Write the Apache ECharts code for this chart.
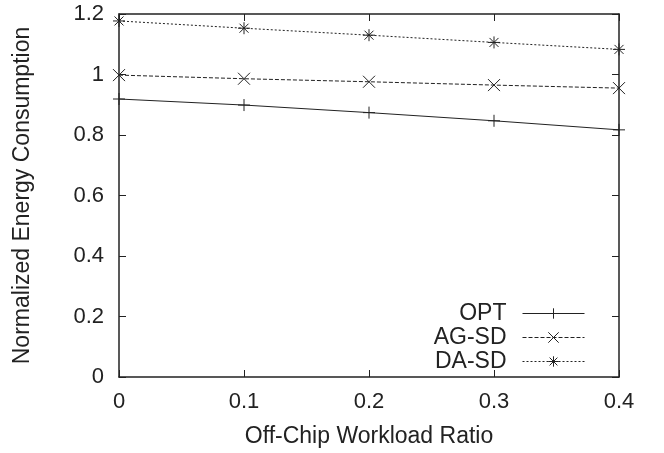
<!DOCTYPE html>
<html><head><meta charset="utf-8">
<script src="https://cdn.jsdelivr.net/npm/echarts@6/dist/echarts.min.js"></script>
<style>html,body{margin:0;padding:0;background:#fff}#c{width:664px;height:453px}</style>
</head><body><div id="c"></div>
<script>
const xValues = [0, 0.1, 0.2, 0.3, 0.4];
const optValues = [0.919, 0.899, 0.874, 0.847, 0.817];
const agsdValues = [0.998, 0.986, 0.976, 0.965, 0.955];
const dasdValues = [1.177, 1.153, 1.130, 1.106, 1.083];
const seriesNames = ['OPT', 'AG-SD', 'DA-SD'];

const plusPath = 'path://M10,0L10,20M0,10L20,10';
const crossPath = 'path://M0,0L20,20M20,0L0,20';
const starPath = 'path://M10,0L10,20M0,10L20,10M2.5,2.5L17.5,17.5M17.5,2.5L2.5,17.5';
const font = 'Liberation Sans, Arial, Helvetica, sans-serif';
const ink = '#222';

function mk(name, vals, sym, type) {
  return {
    name: name, type: 'line',
    data: xValues.map((x, i) => [x, vals[i]]),
    symbol: sym, symbolSize: 12,
    itemStyle: {color: 'none', borderColor: ink, borderWidth: 1},
    lineStyle: {color: ink, width: 1, type: type},
    emphasis: {disabled: true}, animation: false, z: 3
  };
}
const chart = echarts.init(document.getElementById('c'), null, {renderer: 'canvas'});
const axLine = {show: true, onZero: false, lineStyle: {color: ink, width: 1.5}};
const tick = {show: true, inside: true, length: 7, lineStyle: {color: ink}};
chart.setOption({
  animation: false,
  backgroundColor: '#fff',
  grid: {left: 119, right: 45, top: 14, bottom: 76, containLabel: false},
  legend: {
    orient: 'vertical', right: 74, top: 297, align: 'right',
    itemWidth: 62, itemHeight: 13, itemGap: 1,
    itemStyle: {borderWidth: 1},
    lineStyle: {width: 1},
    textStyle: {fontFamily: font, fontSize: 23, color: ink, padding: [0, 11, 0, 0]},
    data: seriesNames
  },
  xAxis: [{
    type: 'value', min: 0, max: 0.4, interval: 0.1,
    name: 'Off-Chip Workload Ratio', nameLocation: 'middle', nameGap: 48,
    nameTextStyle: {fontFamily: font, fontSize: 23, color: ink},
    axisLine: axLine, axisTick: tick,
    axisLabel: {fontFamily: font, fontSize: 22, color: ink, margin: 14, formatter: v => String(Math.round(v*10)/10)},
    splitLine: {show: false}
  }, {
    type: 'value', position: 'top', min: 0, max: 0.4, interval: 0.1,
    axisLine: axLine, axisTick: tick,
    axisLabel: {show: false}, splitLine: {show: false}
  }],
  yAxis: [{
    type: 'value', min: 0, max: 1.2, interval: 0.2,
    name: 'Normalized Energy Consumption', nameLocation: 'middle', nameGap: 85,
    nameTextStyle: {fontFamily: font, fontSize: 23, color: ink},
    axisLine: axLine, axisTick: tick,
    axisLabel: {fontFamily: font, fontSize: 22, color: ink, margin: 15, formatter: v => String(Math.round(v*10)/10)},
    splitLine: {show: false}
  }, {
    type: 'value', position: 'right', min: 0, max: 1.2, interval: 0.2,
    axisLine: axLine, axisTick: tick,
    axisLabel: {show: false}, splitLine: {show: false}
  }],
  series: [
    mk('OPT', optValues, plusPath, 'solid'),
    mk('AG-SD', agsdValues, crossPath, [4, 2]),
    mk('DA-SD', dasdValues, starPath, [2, 2])
  ]
});
</script></body></html>
